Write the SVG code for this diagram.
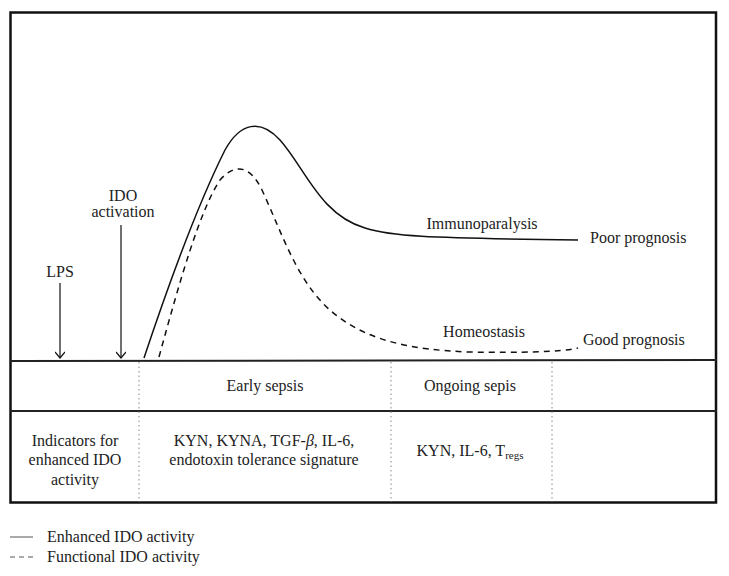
<svg xmlns="http://www.w3.org/2000/svg" width="729" height="576" viewBox="0 0 729 576">
<defs>
<style>
text{font-family:"Liberation Serif","Times New Roman",serif;font-size:16px;fill:#222}
.m{text-anchor:middle}
.frame{fill:none;stroke:#111;stroke-width:2.5}
.rule{stroke:#222;stroke-width:2}
.dot{stroke:#888;stroke-width:1;stroke-dasharray:1.5 3}
.solid{fill:none;stroke:#111;stroke-width:1.5}
.dash{fill:none;stroke:#111;stroke-width:1.5;stroke-dasharray:6 5}
.arr{stroke:#111;stroke-width:1.2;fill:none}
</style>
<marker id="ah" viewBox="0 0 10 10" refX="9" refY="5" markerWidth="10" markerHeight="10" markerUnits="userSpaceOnUse" orient="auto">
<path d="M3,0 L9,5 L3,10" fill="none" stroke="#111" stroke-width="1.2"/>
</marker>
</defs>
<rect width="729" height="576" fill="#fff"/>
<g id="frame">
<rect class="frame" x="10.5" y="12.5" width="705.5" height="490"/>
<line class="rule" x1="10" y1="361" x2="717" y2="360"/>
<line class="rule" x1="10" y1="411" x2="717" y2="411"/>
<line class="dot" x1="139" y1="362" x2="139" y2="502"/>
<line class="dot" x1="391" y1="362" x2="391" y2="502"/>
<line class="dot" x1="552" y1="362" x2="552" y2="502"/>
</g>
<g id="connectors">
<path class="solid" d="M144,358 C170,280 200,200 225,150 C240,123 260,118 280,140 C305,168 320,215 365,228 C390,236 420,238 578,240"/>
<path class="dash" d="M159,357 C180,280 200,210 220,180 C235,163 250,165 262,190 C285,240 300,290 340,318 C370,340 410,350 470,352 C520,353 560,352 578,348"/>
<line class="arr" x1="60" y1="283" x2="60" y2="358" marker-end="url(#ah)"/>
<line class="arr" x1="121" y1="225" x2="121" y2="358" marker-end="url(#ah)"/>
</g>
<g id="lps" font-family="Liberation Serif, serif"><text class="m" x="60" y="277">LPS</text></g>
<g id="ido" font-family="Liberation Serif, serif"><text class="m" x="123" y="201">IDO</text><text class="m" x="123" y="217">activation</text></g>
<g id="immuno"><text class="m" x="482" y="229">Immunoparalysis</text></g>
<g id="poor"><text x="590" y="243">Poor prognosis</text></g>
<g id="homeo"><text class="m" x="484" y="337">Homeostasis</text></g>
<g id="good"><text x="583" y="345">Good prognosis</text></g>
<g id="early"><text class="m" x="265" y="391">Early sepsis</text></g>
<g id="ongoing"><text class="m" x="470" y="391">Ongoing sepis</text></g>
<g id="indicators"><text class="m" x="75" y="446">Indicators for</text><text class="m" x="75" y="465">enhanced IDO</text><text class="m" x="75" y="485">activity</text></g>
<g id="early-ind"><text class="m" x="264" y="446">KYN, KYNA, TGF-<tspan font-style="italic">β</tspan>, IL-6,</text><text class="m" x="264" y="465">endotoxin tolerance signature</text></g>
<g id="ongoing-ind"><text class="m" x="470" y="456">KYN, IL-6, T<tspan font-size="11" dy="3">regs</tspan></text></g>
<g id="legend">
<line x1="10" y1="537" x2="33" y2="537" stroke="#555" stroke-width="1"/>
<text x="47" y="542">Enhanced IDO activity</text>
<line x1="10" y1="557" x2="33" y2="557" stroke="#555" stroke-width="1" stroke-dasharray="5 4"/>
<text x="47" y="562">Functional IDO activity</text>
</g>
</svg>
